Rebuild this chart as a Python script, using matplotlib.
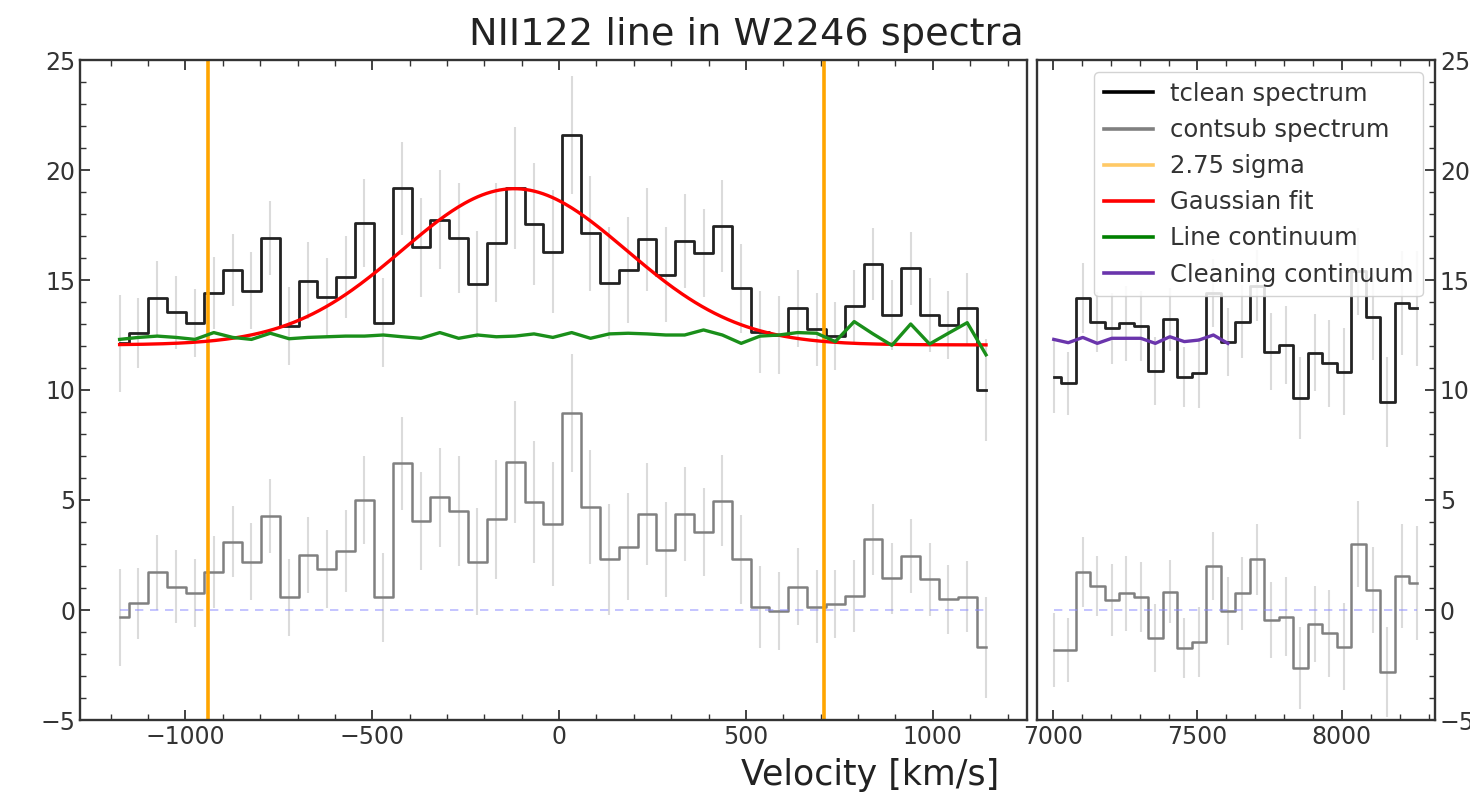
import matplotlib
matplotlib.use("Agg")
import matplotlib.pyplot as plt
from matplotlib.lines import Line2D
from matplotlib.ticker import MultipleLocator
import numpy as np

# ---------------- data ----------------
vel_left = [-1176.0, -1125.6, -1075.2, -1024.8, -974.4, -924.0, -873.6, -823.2,
            -772.8, -722.4, -672.0, -621.6, -571.2, -520.8, -470.4, -420.0,
            -369.6, -319.2, -268.8, -218.4, -168.0, -117.6, -67.2, -16.8,
            33.6, 84.0, 134.4, 184.8, 235.2, 285.6, 336.0, 386.4,
            436.8, 487.2, 537.6, 588.0, 638.4, 688.8, 739.2, 789.6,
            840.0, 890.4, 940.8, 991.2, 1041.6, 1092.0, 1142.4]

tclean_left = [12.12, 12.58, 14.17, 13.53, 13.03, 14.42, 15.45, 14.52, 16.89, 12.91,
               14.97, 14.24, 15.12, 17.58, 13.06, 19.17, 16.48, 17.73, 16.89, 14.80,
               16.70, 19.17, 17.55, 16.29, 21.59, 17.12, 14.88, 15.45, 16.85, 15.23,
               16.79, 16.24, 17.45, 14.62, 12.65, 12.50, 13.71, 12.76, 12.45, 13.82,
               15.73, 13.41, 15.53, 13.41, 12.95, 13.71, 10.00]

contsub_left = [-0.33, 0.30, 1.71, 1.06, 0.76, 1.74, 3.11, 2.20, 4.27, 0.58,
                2.50, 1.85, 2.68, 5.00, 0.58, 6.67, 4.06, 5.12, 4.51, 2.20,
                4.12, 6.74, 4.92, 3.91, 8.97, 4.67, 2.30, 2.88, 4.36, 2.73,
                4.36, 3.56, 4.97, 2.30, 0.15, -0.03, 1.06, 0.15, 0.26, 0.64,
                3.21, 1.44, 2.45, 1.39, 0.48, 0.61, -1.70]

err_left = [2.20, 1.60, 1.70, 1.65, 1.55, 1.63, 1.63, 1.74, 1.68, 1.76,
            1.74, 1.78, 1.86, 1.99, 2.02, 2.12, 2.23, 2.25, 2.50, 2.42,
            2.69, 2.77, 2.77, 2.80, 2.68, 2.60, 2.54, 2.42, 2.33, 2.16,
            2.14, 2.00, 2.08, 2.03, 1.86, 1.78, 1.74, 1.67, 1.55, 1.64,
            1.63, 1.60, 1.67, 1.67, 1.55, 1.63, 2.30]

line_cont = [12.30, 12.39, 12.45, 12.39, 12.30, 12.61, 12.39, 12.30, 12.58, 12.33,
             12.39, 12.42, 12.45, 12.45, 12.50, 12.42, 12.35, 12.61, 12.35, 12.50,
             12.42, 12.45, 12.55, 12.39, 12.61, 12.35, 12.55, 12.58, 12.55, 12.50,
             12.50, 12.73, 12.50, 12.12, 12.45, 12.50, 12.61, 12.58, 12.20, 13.11,
             12.55, 12.03, 13.00, 12.09, 12.58, 13.06, 11.60]

vel_right = [7003.0, 7053.2, 7103.4, 7153.6, 7203.8, 7254.0, 7304.2, 7354.4,
             7404.6, 7454.8, 7505.0, 7555.2, 7605.4, 7655.6, 7705.8, 7756.0,
             7806.2, 7856.4, 7906.6, 7956.8, 8007.0, 8057.2, 8107.4, 8157.6,
             8207.8, 8258.0]

tclean_right = [10.61, 10.30, 14.17, 13.11, 12.80, 13.03, 12.91, 10.88, 13.21, 10.58,
                10.76, 14.40, 12.20, 13.11, 14.75, 11.74, 12.05, 9.62, 11.70, 11.21,
                10.83, 15.40, 13.33, 9.47, 13.95, 13.71]

contsub_right = [-1.82, -1.82, 1.74, 1.09, 0.45, 0.76, 0.61, -1.29, 0.83, -1.71,
                 -1.44, 2.00, -0.03, 0.76, 2.30, -0.45, -0.30, -2.65, -0.64, -1.06,
                 -1.67, 3.00, 0.91, -2.80, 1.55, 1.24]

err_right = [1.67, 1.44, 1.59, 1.36, 1.63, 1.70, 1.59, 1.55, 1.44, 1.36,
             1.59, 1.55, 1.55, 1.67, 1.63, 1.74, 1.78, 1.86, 1.74, 1.97,
             1.97, 1.97, 1.97, 2.05, 2.35, 2.60]

clean_cont = [12.30, 12.15, 12.39, 12.12, 12.35, 12.35, 12.35, 12.12, 12.42, 12.20,
              12.27, 12.50, 12.12]

sigma_lines = [-940, 708]

# Gaussian fit parameters (amplitude, centre, sigma, baseline)
gauss_amp = 7.1
gauss_center = -120.0
gauss_sigma = 300.0
gauss_base = 12.05

# ---------------- figure ----------------
W, H = 1470, 810
fig = plt.figure(figsize=(W / 100, H / 100), dpi=100)

def fx(px):
    return px / W

def fy(py):
    return 1 - py / H

ax1 = fig.add_axes([fx(80), fy(720), fx(1027) - fx(80), fy(60) - fy(720)])
ax2 = fig.add_axes([fx(1037), fy(720), fx(1435) - fx(1037), fy(60) - fy(720)])

ebar_kw = dict(fmt='none', ecolor='#b8b8b8', elinewidth=1.5, alpha=0.5, capsize=0)

# left panel
ax1.errorbar(vel_left, tclean_left, yerr=err_left, **ebar_kw)
ax1.errorbar(vel_left, contsub_left, yerr=err_left, **ebar_kw)
ax1.step(vel_left, tclean_left, where='mid', color='#222222', lw=2.0)
ax1.step(vel_left, contsub_left, where='mid', color='#808080', lw=1.8)
ax1.plot([vel_left[0], vel_left[-1]], [0, 0], ls=(0, (5, 4)), color='#8c8cff', lw=1.2, alpha=0.6)
for v in sigma_lines:
    ax1.axvline(v, color='orange', lw=2.6)
xg = np.linspace(vel_left[0], vel_left[-1], 400)
ax1.plot(xg, gauss_base + gauss_amp * np.exp(-(xg - gauss_center) ** 2 / (2 * gauss_sigma ** 2)),
         color='red', lw=2.4)
ax1.plot(vel_left, line_cont, color='#1a8f1a', lw=2.4)

# right panel
ax2.errorbar(vel_right, tclean_right, yerr=err_right, **ebar_kw)
ax2.errorbar(vel_right, contsub_right, yerr=err_right, **ebar_kw)
ax2.step(vel_right, tclean_right, where='mid', color='#222222', lw=2.0)
ax2.step(vel_right, contsub_right, where='mid', color='#808080', lw=1.8)
ax2.plot([vel_right[0], vel_right[-1]], [0, 0], ls=(0, (5, 4)), color='#8c8cff', lw=1.2, alpha=0.6)
ax2.plot(vel_right[:len(clean_cont)], clean_cont, color='#6a35ac', lw=2.4)

ax1.set_xlim(-1282, 1252)
ax2.set_xlim(6945, 8322)
for ax in (ax1, ax2):
    ax.set_ylim(-5, 25)
    ax.yaxis.set_major_locator(MultipleLocator(5))
    ax.yaxis.set_minor_locator(MultipleLocator(1))
    ax.xaxis.set_minor_locator(MultipleLocator(100))
    for s in ax.spines.values():
        s.set_color('#333333')
        s.set_linewidth(1.7)
ax1.xaxis.set_major_locator(MultipleLocator(500))
ax2.xaxis.set_major_locator(MultipleLocator(500))

ax1.tick_params(which='both', direction='in', top=True, right=False, labelsize=17,
                colors='#333333', labelcolor='#333333')
ax1.tick_params(which='major', length=7, width=1.3)
ax1.tick_params(which='minor', length=4, width=1.0)
ax2.tick_params(which='both', direction='in', top=True, left=False, right=True,
                labelleft=False, labelright=True, labelsize=17,
                colors='#333333', labelcolor='#333333')
ax2.tick_params(which='major', length=7, width=1.3)
ax2.tick_params(which='minor', length=4, width=1.0)

handles = [Line2D([], [], color='black', lw=2.6),
           Line2D([], [], color='gray', lw=2.6),
           Line2D([], [], color='orange', lw=2.6, alpha=0.6),
           Line2D([], [], color='red', lw=2.6),
           Line2D([], [], color='green', lw=2.6),
           Line2D([], [], color='#6a35ac', lw=2.6)]
labels = ['tclean spectrum', 'contsub spectrum', '2.75 sigma', 'Gaussian fit',
          'Line continuum', 'Cleaning continuum']
leg = ax2.legend(handles, labels, loc='upper right', fontsize=17.5, framealpha=0.85,
                 labelcolor='#333333', handletextpad=0.7)

fig.text(fx(746), fy(35), 'NII122 line in W2246 spectra', ha='center', va='center',
         fontsize=27.5, color='#222222')
fig.text(fx(870), fy(775), 'Velocity [km/s]', ha='center', va='center',
         fontsize=25, color='#222222')

fig.savefig('out.png', dpi=100)
